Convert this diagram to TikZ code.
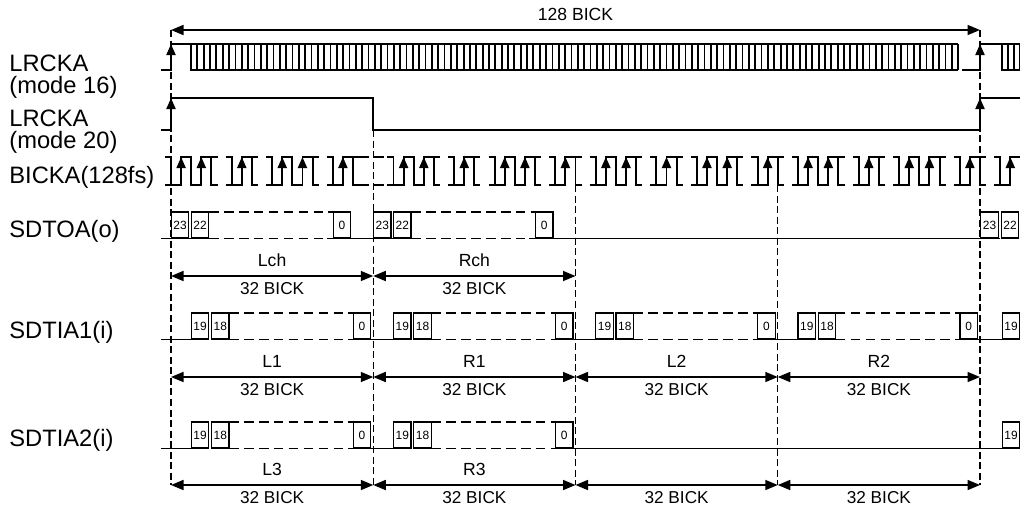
\documentclass[tikz,border=0pt]{standalone}
\usepackage{fontspec}
\setmainfont{Liberation Sans}
\usetikzlibrary{arrows.meta}

\tikzset{
  wave/.style={line width=1.1pt},
  ladder/.style={line width=1pt},
  guide/.style={line width=0.8pt, dash pattern=on 4pt off 2pt},
  gap/.style={line width=0.9pt, dash pattern=on 5.5pt off 3pt},
  edgetip/.style={line width=1.1pt, -{Triangle[length=2.2mm, width=1.8mm]}},
  dimline/.style={line width=0.9pt, {Triangle[length=2.5mm, width=2mm]}-{Triangle[length=2.5mm, width=2mm]}},
  dimtop/.style={anchor=base, yshift=0.19cm, inner sep=0pt, font=\fontsize{10}{10}\selectfont},
  dimbot/.style={anchor=base, yshift=-0.36cm, inner sep=0pt, font=\fontsize{9.8}{10}\selectfont},
  siglabel/.style={inner sep=0pt, font=\fontsize{13.5}{12.4}\selectfont, align=left},
  bitcell/.style={draw, line width=0.8pt, minimum width=0.35cm, minimum height=0.52cm, inner sep=0pt, font=\fontsize{6.8}{7}\selectfont},
}

\begin{document}
\begin{tikzpicture}[x=0.02cm, y=-0.02cm]
    \useasboundingbox (0,0) rectangle (1020,511);
    \def\halfper{10.1125}

    % Signal names
    \node[siglabel, anchor=west] (lrck16) at (9,76.5) {LRCKA\\(mode 16)};
    \node[siglabel, anchor=west] (lrck20) at (9,131.5) {LRCKA\\(mode 20)};
    \node[siglabel, anchor=base west] (bick) at (9,183) {BICKA(128fs)};
    \node[siglabel, anchor=base west] (sdto) at (9,237) {SDTOA(o)};
    \node[siglabel, anchor=base west] (sdti1) at (9,338) {SDTIA1(i)};
    \node[siglabel, anchor=base west] (sdti2) at (9,446) {SDTIA2(i)};

    % Frame span
    \coordinate (t0) at (171,30);
    \coordinate (t1) at (980,30);
    \draw[dimline] (t0) -- node[dimtop] (span) {128 BICK} (t1);

    % Slot boundaries
    \foreach \x/\y in {171/30, 373.25/130, 575.5/185, 777.75/185, 980/30}
        \draw[guide] (\x,\y) -- (\x,485);

    % LRCKA (mode 16)
    \draw[wave] (161,70) -- (171,70) -- (171,44) -- (958,44);
    \draw[wave] (191,44) -- (191,70) -- (958,70);
    \foreach \x in {197.34,203.68,...,958.5}
        \draw[ladder] (\x,44) -- (\x,70);
    \draw[wave] (962,70) -- (980,70) -- (980,44) -- (1020,44);
    \draw[wave] (1002,44) -- (1002,70) -- (1020,70);
    \foreach \x in {1008,1014,1020}
        \draw[ladder] (\x,44) -- (\x,70);
    \draw[edgetip] (171,70) -- (171,44);
    \draw[edgetip] (980,70) -- (980,44);

    % LRCKA (mode 20)
    \draw[wave] (161,130) -- (171,130) -- (171,98) -- (373.25,98) -- (373.25,130) -- (980,130) -- (980,98) -- (1020,98);
    \draw[edgetip] (171,130) -- (171,98);
    \draw[edgetip] (980,130) -- (980,98);

    % BICKA: double pulses
    \foreach \sx in {150.775,373.25,575.5,777.75} {
        \foreach \off in {2,12} {
            \draw[wave] ({\sx+(\off-0.6)*\halfper},157) -- ({\sx+\off*\halfper},157) -- ({\sx+\off*\halfper},185)
                -- ({\sx+(\off+1)*\halfper},185) -- ({\sx+(\off+1)*\halfper},157) -- ({\sx+(\off+2)*\halfper},157)
                -- ({\sx+(\off+2)*\halfper},185) -- ({\sx+(\off+3)*\halfper},185) -- ({\sx+(\off+3)*\halfper},157)
                -- ({\sx+(\off+4)*\halfper},157) -- ({\sx+(\off+4)*\halfper},185) -- ({\sx+(\off+4.6)*\halfper},185);
            \draw[wave] ({\sx+(\off-0.6)*\halfper},185) -- ({\sx+\off*\halfper},185);
            \draw[wave] ({\sx+(\off+4)*\halfper},157) -- ({\sx+(\off+4.6)*\halfper},157);
            \draw[edgetip] ({\sx+(\off+1)*\halfper},185) -- ({\sx+(\off+1)*\halfper},157);
            \draw[edgetip] ({\sx+(\off+3)*\halfper},185) -- ({\sx+(\off+3)*\halfper},157);
        }
        % BICKA: single pulses
        \foreach \off in {8,18} {
            \draw[wave] ({\sx+(\off-0.6)*\halfper},157) -- ({\sx+\off*\halfper},157) -- ({\sx+\off*\halfper},185)
                -- ({\sx+(\off+1)*\halfper},185) -- ({\sx+(\off+1)*\halfper},157) -- ({\sx+(\off+2)*\halfper},157)
                -- ({\sx+(\off+2)*\halfper},185) -- ({\sx+(\off+2.6)*\halfper},185);
            \draw[wave] ({\sx+(\off-0.6)*\halfper},185) -- ({\sx+\off*\halfper},185);
            \draw[wave] ({\sx+(\off+2)*\halfper},157) -- ({\sx+(\off+2.6)*\halfper},157);
            \draw[edgetip] ({\sx+(\off+1)*\halfper},185) -- ({\sx+(\off+1)*\halfper},157);
        }
    }
    \draw[gap] (359,157) -- (387.4,157);
    \draw[gap] (359,185) -- (387.4,185);
    \draw[wave] (994.2,157) -- (1000.2,157) -- (1000.2,185) -- (1010.3,185) -- (1010.3,157) -- (1020,157);
    \draw[wave] (994.2,185) -- (1000.2,185);
    \draw[edgetip] (1010.3,185) -- (1010.3,157);

    % SDTOA
    \foreach \sx/\nm in {171/l, 373.25/r} {
        \node[bitcell] (tx\nm23) at ({\sx+9},225) {23};
        \node[bitcell] (tx\nm22) at ({\sx+29},225) {22};
        \node[bitcell] (tx\nm0) at ({\sx+171},225) {0};
        \draw[gap] ({\sx+38},212) -- ({\sx+162},212);
        \draw[gap] ({\sx+38},238.5) -- ({\sx+162},238.5);
    }
    \draw[wave] (161,238.5) -- (191,238.5);
    \draw[wave] (327,238.5) -- (394,238.5);
    \draw[wave] (529,238.5) -- (1000,238.5);
    \node[bitcell] (txe23) at (989.5,225) {23};
    \node[bitcell] (txe22) at (1010,225) {22};

    % SDTIA1
    \foreach \sx/\nm in {171/a, 373.25/b, 575.5/c, 777.75/d} {
        \node[bitcell] (rxa\nm19) at ({\sx+29},326) {19};
        \node[bitcell] (rxa\nm18) at ({\sx+49.25},326) {18};
        \node[bitcell] (rxa\nm0) at ({\sx+191},326) {0};
        \draw[gap] ({\sx+58},313) -- ({\sx+182},313);
        \draw[gap] ({\sx+58},339.5) -- ({\sx+182},339.5);
        \draw[wave] ({\sx-2},339.5) -- ({\sx+20},339.5);
    }
    \draw[wave] (161,339.5) -- (191,339.5);
    \draw[wave] (978,339.5) -- (1002,339.5);
    \node[bitcell] (rxae19) at (1011,326) {19};

    % SDTIA2
    \foreach \sx/\nm in {171/a, 373.25/b} {
        \node[bitcell] (rxb\nm19) at ({\sx+29},435) {19};
        \node[bitcell] (rxb\nm18) at ({\sx+49.25},435) {18};
        \node[bitcell] (rxb\nm0) at ({\sx+191},435) {0};
        \draw[gap] ({\sx+58},422) -- ({\sx+182},422);
        \draw[gap] ({\sx+58},448.5) -- ({\sx+182},448.5);
    }
    \draw[wave] (161,448.5) -- (191,448.5);
    \draw[wave] (371.25,448.5) -- (393.25,448.5);
    \draw[wave] (573.5,448.5) -- (1002,448.5);
    \node[bitcell] (rxbe19) at (1011,435) {19};

    % Channel spans
    \coordinate (o0) at (171,276);
    \coordinate (o1) at (373.25,276);
    \coordinate (o2) at (575.5,276);
    \draw[dimline] (o0) -- node[dimtop] (lch) {Lch} node[dimbot] (wo0) {32 BICK} (o1);
    \draw[dimline] (o1) -- node[dimtop] (rch) {Rch} node[dimbot] (wo1) {32 BICK} (o2);

    \foreach \i/\x in {0/171, 1/373.25, 2/575.5, 3/777.75, 4/980} {
        \coordinate (a\i) at (\x,377);
        \coordinate (b\i) at (\x,485);
    }
    \foreach \i/\j/\lab in {0/1/L1, 1/2/R1, 2/3/L2, 3/4/R2}
        \draw[dimline] (a\i) -- node[dimtop] (nm\lab) {\lab} node[dimbot] (wa\i) {32 BICK} (a\j);
    \foreach \i/\j/\lab in {0/1/L3, 1/2/R3}
        \draw[dimline] (b\i) -- node[dimtop] (nm\lab) {\lab} node[dimbot] (wb\i) {32 BICK} (b\j);
    \foreach \i/\j in {2/3, 3/4}
        \draw[dimline] (b\i) -- node[dimbot] (wb\i) {32 BICK} (b\j);
\end{tikzpicture}
\end{document}
